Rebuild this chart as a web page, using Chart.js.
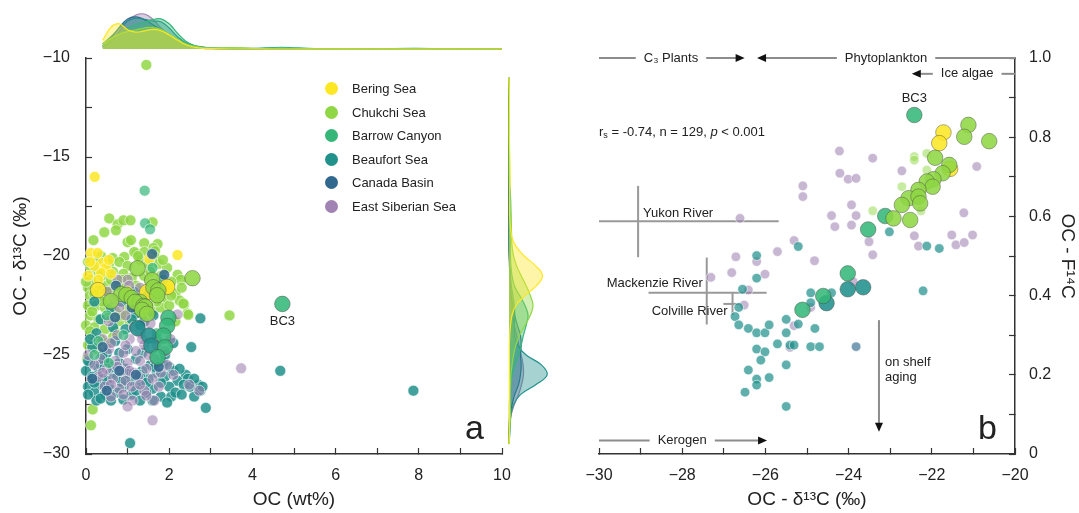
<!DOCTYPE html>
<html>
<head>
<meta charset="utf-8">
<script src="https://cdn.jsdelivr.net/npm/chart.js@4.4.1/dist/chart.umd.min.js"></script>
<style>
  html, body { margin: 0; padding: 0; background: #fff; }
  #wrap { position: relative; width: 1079px; height: 513px; overflow: hidden; font-family: 'Liberation Sans', Arial, sans-serif; }
  canvas { position: absolute; }
  #legend { position: absolute; left: 325px; top: 77px; font-size: 13px; color: #222; }
  #legend .item { height: 23.5px; display: flex; align-items: center; }
  #legend .dot { width: 13px; height: 13px; border-radius: 50%; margin-right: 14px; }
</style>
</head>
<body>
<div id="wrap">
  <canvas id="chartA" width="540" height="513" style="left:0;top:0"></canvas>
  <canvas id="chartB" width="539" height="513" style="left:540px;top:0"></canvas>
  <canvas id="densTop" width="416" height="51" style="left:86px;top:0"></canvas>
  <canvas id="densRight" width="52" height="400" style="left:502px;top:56px"></canvas>
  <div id="legend"></div>
</div>
<script>
// =========================
// CATEGORIES
// =========================
const regions = ['Bering Sea', 'Chukchi Sea', 'Barrow Canyon', 'Beaufort Sea', 'Canada Basin', 'East Siberian Sea'];
const regionColors = ['#fde725', '#8fd744', '#35b779', '#21918c', '#31688e', '#a083b2'];

// =========================
// PANEL A: [OC wt%, d13C]
// =========================
const beringA = [[0.21,-16.0],[2.2,-19.95],[0.12,-19.85],[0.28,-19.85],[0.4,-20.35],[0.48,-20.6],[0.36,-20.85],
  [0.55,-20.2],[1.52,-20.15],[0.05,-21.0],[0.2,-20.5],[0.6,-20.9],[1.0,-21.8],[2.0,-21.6],[0.3,-21.2],[0.1,-20.3]];
const chukchiA = [[1.45,-10.35],[0.56,-18.1],[0.76,-18.4],[0.9,-18.2],[1.07,-18.2],[0.44,-18.8],[0.72,-18.7],[1.6,-18.3],
  [0.18,-19.2],[1.0,-19.3],[1.08,-19.2],[1.4,-19.35],[1.72,-19.4],[1.62,-19.6],[1.66,-19.75],[1.22,-19.9],
  [0.36,-20.0],[0.64,-20.1],[0.92,-20.05],[1.16,-19.8],[1.4,-19.8],[1.64,-20.0],[0.05,-20.3],[0.12,-20.6],
  [0.25,-20.3],[0.55,-20.4],[0.8,-20.3],[1.0,-20.5],[1.3,-20.2],[1.5,-20.4],[1.75,-20.4],[1.95,-20.6],
  [2.2,-20.95],[2.28,-21.2],[0.12,-21.2],[0.4,-21.0],[0.65,-20.8],[0.9,-20.9],[1.1,-21.1],[1.4,-21.0],
  [1.8,-21.0],[2.05,-21.3],[0.05,-21.6],[0.5,-21.5],[0.75,-21.4],[1.2,-21.5],[1.95,-21.5],[2.15,-21.9],
  [0.1,-22.0],[0.35,-22.0],[0.55,-21.8],[1.6,-22.0],[1.85,-22.2],[2.36,-22.45],[2.44,-22.9],[2.25,-22.25],
  [2.34,-22.4],[2.46,-22.97],[0.05,-22.5],[0.25,-22.5],[0.45,-22.6],[0.7,-22.8],[1.0,-22.7],[1.2,-22.9],
  [1.6,-22.8],[1.8,-22.6],[0.1,-23.0],[0.3,-23.2],[0.55,-23.1],[0.8,-23.3],[1.05,-23.3],[0.0,-23.5],
  [0.2,-23.6],[0.45,-23.7],[0.7,-23.8],[0.15,-24.0],[0.35,-24.2],[0.05,-24.5],[0.25,-24.7],[0.5,-24.4],
  [0.03,-25.2],[3.45,-23.0],[0.16,-27.75],[0.12,-28.55],[2.15,-23.3],[2.0,-22.5],[0.3,-21.7],[0.85,-21.2],[1.35,-21.9],
  [0.0,-21.3],[0.2,-21.9],[0.4,-22.3],[0.15,-22.8],[1.25,-20.0],[1.55,-20.8],[1.85,-20.2],[0.95,-21.6],
  [1.7,-22.3],[2.05,-22.0],[0.6,-21.2],[0.3,-20.8],[0.1,-23.8],[0.4,-24.9],[0.65,-24.1],[0.85,-23.0],
  [2.3,-21.6],[1.5,-22.5]];
const barrowA = [[1.41,-16.7],[1.42,-18.35],[1.54,-18.65],[1.6,-20.6],[1.85,-21.2],[0.5,-23.0],[0.3,-24.3],
  [0.9,-24.0],[1.7,-23.9],[0.55,-25.4],[0.2,-25.0]];
const beaufortA = [[2.75,-23.15],[2.53,-24.6],[4.67,-25.8],[7.87,-26.8],[2.88,-27.67],[1.06,-29.45],
  [0.1,-25.4],[0.45,-25.3],[0.8,-25.4],[1.2,-25.2],[1.55,-25.5],[1.85,-25.4],[2.0,-25.6],
  [0.0,-25.8],[0.3,-25.7],[0.6,-25.9],[0.95,-25.7],[1.35,-25.8],[1.7,-25.9],[2.1,-25.8],[2.4,-26.0],
  [0.15,-26.1],[0.4,-26.2],[0.75,-26.1],[1.05,-26.3],[1.5,-26.2],[1.9,-26.1],[2.2,-26.3],[2.45,-26.2],[2.7,-26.5],
  [0.05,-26.6],[0.3,-26.5],[0.55,-26.6],[0.9,-26.6],[1.25,-26.5],[1.6,-26.7],[2.0,-26.6],[2.35,-26.5],[2.75,-26.8],
  [0.2,-26.9],[0.45,-27.0],[0.75,-26.9],[1.1,-27.0],[1.45,-26.9],[1.8,-27.1],[2.05,-27.1],[2.6,-27.1],
  [0.25,-27.3],[0.6,-27.3],[1.3,-27.3],[1.95,-27.4],
  [0.6,-22.6],[0.35,-23.2],[0.85,-22.3],[1.15,-21.8],[1.4,-23.3],[0.25,-23.9],[0.7,-24.3],[1.0,-24.7],
  [1.35,-24.9],[1.7,-24.2],[0.15,-24.6],[0.5,-24.9],[0.95,-23.7],[1.2,-22.9],[1.62,-23.0],[1.48,-21.9],
  [0.2,-22.3],[1.9,-25.0],[2.1,-24.4],
  [0.05,-25.3],[0.35,-25.5],[0.65,-25.6],[1.0,-25.95],[1.3,-26.0],[1.65,-25.6],[2.25,-25.7],[0.2,-26.4],
  [0.5,-26.3],[0.85,-26.35],[1.2,-26.8],[1.45,-26.4],[1.8,-26.4],[2.15,-26.9],[2.5,-26.6],[0.05,-27.0],
  [0.35,-27.2],[0.9,-27.25],[1.6,-27.3],[2.3,-27.0],[0.4,-25.0],[0.1,-24.2],[0.8,-24.9],[1.1,-23.2],
  [0.65,-23.6],[2.6,-26.2],[2.8,-26.6]];
const canadaA = [[1.59,-19.9],[0.72,-21.5],[1.88,-20.95],[0.7,-23.1],[1.1,-22.6],[1.3,-23.5],[0.4,-24.6],
  [0.8,-25.8],[1.2,-26.0],[0.15,-26.2],[0.5,-26.8],[1.75,-25.6]];
const essA = [[0.76,-21.2],[1.0,-21.2],[1.04,-21.5],[0.5,-21.8],[1.3,-21.6],[0.8,-22.6],[1.15,-22.3],[0.55,-23.3],
  [0.95,-23.0],[1.3,-23.9],[1.55,-23.4],[2.2,-22.95],[0.4,-24.2],[0.75,-24.0],[1.05,-24.2],[1.4,-24.5],
  [1.7,-24.5],[2.03,-24.2],[0.55,-24.7],[0.9,-24.9],[1.2,-24.8],[0.35,-25.2],[0.7,-25.3],[1.0,-25.4],
  [1.3,-25.3],[1.65,-25.2],[1.95,-25.5],[0.5,-25.7],[0.85,-25.8],[1.15,-25.9],[1.45,-25.7],[0.3,-26.1],
  [0.65,-26.2],[0.95,-26.3],[1.25,-26.1],[1.6,-26.2],[0.45,-26.6],[0.8,-26.7],[1.1,-26.6],[1.4,-26.8],
  [1.75,-26.6],[2.48,-26.5],[2.72,-26.8],[0.6,-27.1],[1.12,-27.3],[1.64,-27.3],[1.0,-27.6],[1.6,-28.3],
  [3.73,-25.67],[0.2,-25.5],[0.05,-25.0],
  [0.6,-24.4],[0.95,-24.5],[1.35,-24.2],[1.5,-25.0],[0.75,-25.6],[1.05,-25.8],[1.3,-26.5],[0.6,-26.5],
  [0.9,-27.0],[1.45,-27.05],[1.8,-25.9],[2.1,-26.0],[0.4,-25.9],[1.15,-23.6],[0.65,-22.2],[1.9,-24.8]];
// samples that also have F14C (large markers)
const beringBigA = [[0.29,-21.72],[1.47,-21.82],[1.95,-21.56]];
const chukchiBigA = [[1.24,-20.62],[2.56,-21.12],[1.59,-21.22],[1.62,-21.58],[1.74,-21.74],[0.85,-21.92],
  [0.97,-21.96],[1.71,-21.98],[1.10,-22.12],[0.60,-22.28],[1.30,-22.32],[1.18,-22.32],[1.38,-22.52],
  [1.42,-22.56],[1.35,-22.72],[1.47,-22.92]];
const barrowBigA = [[4.72,-22.42],[1.98,-23.12],[1.95,-23.53],[1.86,-24.02],[1.90,-24.61],[1.72,-25.11]];
const beaufortBigA = [[1.24,-23.65],[1.51,-24.02],[1.57,-24.53]];

// =========================
// MARGINAL DENSITIES
// =========================
const densOC = [0.4, 0.6, 0.8, 1.0, 1.2, 1.4, 1.6, 1.8, 2.0, 2.2, 2.4, 2.6, 2.8, 3.0, 3.5, 4.0, 4.7, 5.5, 6.5, 7.9, 9.0, 10.0];
const topBering   = [0.25,0.62,0.72,0.55,0.48,0.52,0.56,0.52,0.40,0.25,0.12,0.05,0.02,0.01,0,0,0,0,0,0,0,0];
const topChukchi  = [0.15,0.30,0.42,0.50,0.55,0.60,0.62,0.56,0.42,0.28,0.15,0.08,0.04,0.03,0.04,0.02,0,0,0,0,0,0];
const topBarrow   = [0.10,0.25,0.45,0.60,0.70,0.76,0.84,0.86,0.72,0.45,0.22,0.10,0.04,0.02,0.01,0.01,0.05,0.01,0,0,0,0];
const topBeaufort = [0.15,0.35,0.60,0.80,0.88,0.85,0.80,0.78,0.60,0.35,0.18,0.10,0.06,0.03,0.01,0.01,0.02,0.01,0,0.02,0,0];
const topCanada   = [0.08,0.30,0.62,0.86,0.92,0.84,0.70,0.55,0.40,0.25,0.12,0.05,0.02,0.01,0,0,0,0,0,0,0,0];
const topEss      = [0.05,0.20,0.50,0.80,0.97,1.00,0.86,0.60,0.40,0.25,0.15,0.08,0.05,0.03,0.02,0.02,0,0,0,0,0,0];

const densD = [-29.5,-29,-28.5,-28,-27.5,-27,-26.5,-26,-25.5,-25,-24.5,-24,-23.5,-23,-22.5,-22,-21.5,-21,-20.5,-20,-19.5,-19,-18,-17,-16,-14,-12,-11];
const rightBering   = [0,0.01,0.01,0.01,0.01,0.01,0.01,0.01,0.01,0.01,0.01,0.02,0.04,0.08,0.18,0.42,0.72,0.88,0.70,0.40,0.18,0.07,0.02,0.02,0.03,0.01,0.01,0];
const rightChukchi  = [0,0.01,0.03,0.04,0.03,0.03,0.04,0.05,0.08,0.12,0.18,0.28,0.42,0.56,0.63,0.56,0.45,0.32,0.20,0.12,0.08,0.07,0.05,0.02,0.01,0.01,0.01,0];
const rightBarrow   = [0,0,0,0.01,0.01,0.02,0.04,0.08,0.16,0.25,0.32,0.38,0.45,0.50,0.42,0.28,0.14,0.08,0.05,0.04,0.04,0.05,0.05,0.04,0.01,0,0,0];
const rightBeaufort = [0,0.02,0.03,0.05,0.12,0.30,0.70,1.00,0.85,0.45,0.22,0.15,0.14,0.15,0.14,0.10,0.06,0.04,0.02,0.01,0,0,0,0,0,0,0,0];
const rightCanada   = [0,0,0.01,0.03,0.08,0.15,0.25,0.30,0.32,0.30,0.32,0.30,0.22,0.15,0.10,0.06,0.04,0.03,0.02,0.01,0,0,0,0,0,0,0,0];
const rightEss      = [0,0.01,0.03,0.06,0.14,0.25,0.33,0.38,0.37,0.32,0.26,0.20,0.14,0.10,0.07,0.05,0.04,0.03,0.01,0,0,0,0,0,0,0,0,0];

// =========================
// PANEL B: [d13C, F14C]
// =========================
const beringBigB = [[-21.72,0.812],[-21.82,0.785],[-21.56,0.72]];
const chukchiBigB = [[-21.12,0.831],[-21.22,0.801],[-20.62,0.79],[-21.92,0.748],[-21.58,0.73],[-21.74,0.709],
  [-21.96,0.694],[-22.12,0.688],[-21.98,0.675],[-22.32,0.667],[-22.56,0.646],[-22.32,0.65],[-22.28,0.633],
  [-22.72,0.629],[-22.92,0.595],[-22.52,0.591]];
const barrowBigB = [[-22.42,0.856],[-23.12,0.601],[-23.53,0.567],[-24.02,0.456],[-24.61,0.399],[-25.11,0.364]];
const beaufortBigB = [[-23.65,0.421],[-24.02,0.416],[-24.53,0.381]];
const chukchiB = [[-22.42,0.751],[-22.42,0.742],[-22.12,0.759],[-22.72,0.675],[-23.42,0.614],[-22.12,0.717],[-22.26,0.614]];
const beaufortB = [[-23.02,0.561],[-22.12,0.525],[-21.82,0.519],[-25.21,0.524],[-26.21,0.501],[-26.21,0.444],
  [-26.55,0.416],[-26.64,0.37],[-26.73,0.347],[-26.64,0.326],[-26.41,0.317],[-26.21,0.306],[-26.01,0.306],
  [-25.91,0.326],[-25.5,0.34],[-25.5,0.306],[-25.21,0.328],[-24.91,0.407],[-24.41,0.407],[-24.91,0.382],
  [-24.81,0.317],[-25.41,0.275],[-25.31,0.275],[-24.91,0.271],[-24.7,0.271],[-25.71,0.278],[-26.21,0.265],
  [-26.01,0.258],[-26.11,0.237],[-25.5,0.225],[-26.41,0.212],[-26.21,0.189],[-25.91,0.193],[-26.21,0.174],
  [-26.49,0.156],[-25.5,0.12],[-22.21,0.412]];
const canadaB = [[-23.82,0.271]];
const essB = [[-24.22,0.765],[-23.42,0.747],[-22.72,0.715],[-24.21,0.709],[-24.01,0.694],[-23.82,0.696],
  [-25.10,0.677],[-25.10,0.65],[-23.93,0.629],[-24.41,0.602],[-23.82,0.602],[-24.33,0.574],[-23.93,0.578],
  [-26.61,0.595],[-25.31,0.539],[-25.71,0.511],[-26.71,0.498],[-26.21,0.486],[-26.81,0.458],[-26.01,0.454],
  [-24.82,0.488],[-23.51,0.536],[-23.42,0.503],[-22.42,0.551],[-22.32,0.525],[-21.52,0.553],[-21.42,0.528],
  [-21.22,0.534],[-21.02,0.553],[-21.23,0.609],[-20.92,0.726],[-27.31,0.446],[-26.41,0.414],[-26.51,0.376],
  [-25.31,0.324],[-25.41,0.269],[-24.91,0.37],[-23.89,0.435]];

// end members / rivers (data units)
const endMembers = [
  { name: 'C\u2083 Plants', from: -30, to: -26.5, f: 1.0, at: -28.27, head: 'end' },
  { name: 'Phytoplankton', from: -26.2, to: -20, f: 1.0, at: -23.1, head: 'start' },
  { name: 'Ice algae', from: -22.48, to: -20, f: 0.96, at: -21.15, head: 'start' },
  { name: 'Kerogen', from: -30, to: -25.96, f: 0.034, at: -28.0, head: 'end' }
];
const riverNames = ['Yukon River', 'Mackenzie River', 'Colville River'];
const riverD13C = [-29.06, -27.41, -26.79];
const riverD13CRange = [[-30, -25.68], [-28.81, -25.97], [-27.01, -26.57]];
const riverF14C = [0.588, 0.407, 0.379];
const riverF14CRange = [[0.497, 0.677], [0.327, 0.496], [0.351, 0.406]];
const agingD13C = -23.27;
const agingF14C = [0.338, 0.056];

// =========================
// HELPERS
// =========================
const FONT = "'Liberation Sans', Arial, sans-serif";
Chart.defaults.font.family = FONT;
Chart.defaults.color = '#222';

function rgba(hex, a) {
    const n = parseInt(hex.slice(1), 16);
    return `rgba(${n >> 16}, ${(n >> 8) & 255}, ${n & 255}, ${a})`;
}
const minus = v => String(v).replace('-', '\u2212');

function pts(arr) { return arr.map(p => ({ x: p[0], y: p[1] })); }

function small(arr, ci, alpha, r) {
    return {
        data: pts(arr), clip: false, pointRadius: r, pointHoverRadius: r,
        backgroundColor: rgba(regionColors[ci], alpha),
        borderColor: 'rgba(255,255,255,0.75)', borderWidth: 0.8
    };
}
function big(arr, ci, r) {
    return {
        data: pts(arr), clip: false, pointRadius: r, pointHoverRadius: r,
        backgroundColor: rgba(regionColors[ci], 0.88),
        borderColor: 'rgba(70,70,70,0.55)', borderWidth: 0.8
    };
}

function axisX(min, max, title, every) {
    return {
        type: 'linear', min: min, max: max, position: 'bottom',
        afterFit: s => { s.height = 59; },
        ticks: {
            stepSize: 1, autoSkip: false, maxRotation: 0, padding: 18, font: { size: 16 }, color: '#222',
            callback: v => (Math.round(v) % every === 0 ? minus(v) : '')
        },
        grid: { drawOnChartArea: false, drawTicks: true, tickLength: -6, tickColor: '#333', tickWidth: 1.2 },
        border: { color: '#333', width: 1.5 },
        title: { display: true, text: title, font: { size: 19 }, color: '#222', padding: { top: 0, bottom: 2 } }
    };
}

// =========================
// PANEL A
// =========================
const plainPlugins = { legend: { display: false }, tooltip: { enabled: false } };

const labelsA = {
    id: 'labelsA',
    afterDatasetsDraw(chart) {
        const { ctx, scales: { x, y }, chartArea } = chart;
        ctx.save();
        ctx.fillStyle = '#222';
        ctx.textAlign = 'center';
        ctx.textBaseline = 'middle';
        ctx.font = `13px ${FONT}`;
        ctx.fillText('BC3', x.getPixelForValue(barrowBigA[0][0]), y.getPixelForValue(barrowBigA[0][1]) + 18);
        ctx.font = `34px ${FONT}`;
        ctx.textAlign = 'right';
        ctx.textBaseline = 'alphabetic';
        ctx.fillText('a', chartArea.right - 18, chartArea.bottom - 15);
        ctx.restore();
    }
};

new Chart(document.getElementById('chartA'), {
    type: 'scatter',
    data: {
        datasets: [
            big(chukchiBigA, 1, 7.8),
            big(barrowBigA, 2, 7.8),
            big(beaufortBigA, 3, 7.8),
            big(beringBigA, 0, 7.8),
            small(canadaA, 4, 0.85, 5.5),
            small(barrowA, 2, 0.7, 5.5),
            small(beringA, 0, 0.85, 5.5),
            small(essA, 5, 0.6, 5.5),
            small(beaufortA, 3, 0.85, 5.5),
            small(chukchiA, 1, 0.85, 5.5)
        ]
    },
    options: {
        responsive: false, animation: false,
        layout: { padding: { top: 58, right: 38, left: 0, bottom: 0 } },
        plugins: plainPlugins,
        scales: {
            x: axisX(0, 10, 'OC (wt%)', 2),
            y: {
                type: 'linear', min: -30, max: -10, position: 'left',
                afterFit: s => { s.width = 86; },
                ticks: {
                    stepSize: 2.5, autoSkip: false, padding: 22, font: { size: 16 }, color: '#222',
                    callback: v => (v % 5 === 0 ? minus(v) : '')
                },
                grid: { drawOnChartArea: false, drawTicks: true, tickLength: -6, tickColor: '#333', tickWidth: 1.2 },
                border: { color: '#333', width: 1.5 },
                title: { display: true, text: 'OC - \u03b4\u00b9\u00b3C (\u2030)', font: { size: 19 }, color: '#222', padding: { top: 9, bottom: 0 } }
            }
        }
    },
    plugins: [labelsA]
});

// legend
const legendEl = document.getElementById('legend');
regions.forEach((name, i) => {
    const row = document.createElement('div');
    row.className = 'item';
    row.innerHTML = `<span class="dot" style="background:${regionColors[i]}"></span><span>${name}</span>`;
    legendEl.appendChild(row);
});

// =========================
// MARGINAL DENSITIES
// =========================
const topDens = [topBering, topChukchi, topBarrow, topBeaufort, topCanada, topEss];
const rightDens = [rightBering, rightChukchi, rightBarrow, rightBeaufort, rightCanada, rightEss];
const densOrder = [0, 1, 2, 3, 4, 5];

new Chart(document.getElementById('densTop'), {
    type: 'scatter',
    data: {
        datasets: densOrder.map(i => ({
            data: densOC.map((v, k) => ({ x: v, y: topDens[i][k] })),
            showLine: true, fill: 'origin', tension: 0.4, pointRadius: 0, clip: false,
            borderColor: regionColors[i], borderWidth: 1.2,
            backgroundColor: rgba(regionColors[i], 0.4)
        }))
    },
    options: {
        responsive: false, animation: false,
        layout: { padding: { bottom: 2, top: 0 } },
        plugins: plainPlugins,
        scales: { x: { display: false, min: 0, max: 10 }, y: { display: false, min: 0, max: 1.4 } }
    }
});

new Chart(document.getElementById('densRight'), {
    type: 'scatter',
    data: {
        datasets: densOrder.map(i => ({
            data: densD.map((v, k) => ({ x: rightDens[i][k], y: v })),
            showLine: true, fill: 'shape', tension: 0.4, pointRadius: 0, clip: false,
            borderColor: regionColors[i], borderWidth: 1.2,
            backgroundColor: rgba(regionColors[i], 0.4)
        }))
    },
    options: {
        responsive: false, animation: false,
        layout: { padding: { left: 7, top: 2, bottom: 2, right: 0 } },
        plugins: plainPlugins,
        scales: { x: { display: false, min: 0, max: 1.18 }, y: { display: false, min: -30, max: -10 } }
    }
});

// =========================
// PANEL B
// =========================
function hLine(ctx, x0, x1, y) { ctx.beginPath(); ctx.moveTo(x0, y); ctx.lineTo(x1, y); ctx.stroke(); }
function vLine(ctx, x, y0, y1) { ctx.beginPath(); ctx.moveTo(x, y0); ctx.lineTo(x, y1); ctx.stroke(); }
function head(ctx, x, y, dir) {
    // dir: 'right' | 'left' | 'down'
    ctx.beginPath();
    if (dir === 'right') { ctx.moveTo(x, y); ctx.lineTo(x - 9, y - 4); ctx.lineTo(x - 9, y + 4); }
    else if (dir === 'left') { ctx.moveTo(x, y); ctx.lineTo(x + 9, y - 4); ctx.lineTo(x + 9, y + 4); }
    else { ctx.moveTo(x, y); ctx.lineTo(x - 4, y - 9); ctx.lineTo(x + 4, y - 9); }
    ctx.closePath();
    ctx.fill();
}

const annotB = {
    id: 'annotB',
    beforeDatasetsDraw(chart) {
        const { ctx, scales: { x, y } } = chart;
        ctx.save();
        ctx.strokeStyle = '#8c8c8c';
        ctx.lineWidth = 2;
        ctx.fillStyle = '#111';
        ctx.font = `13px ${FONT}`;

        // end member ranges
        endMembers.forEach(m => {
            const py = y.getPixelForValue(m.f);
            const cx = x.getPixelForValue(m.at);
            const half = ctx.measureText(m.name).width / 2 + 8;
            const x0 = x.getPixelForValue(m.from);
            const x1 = x.getPixelForValue(m.to);
            hLine(ctx, m.head === 'start' ? x0 + 6 : x0, cx - half, py);
            hLine(ctx, cx + half, m.head === 'end' ? x1 - 6 : x1, py);
            if (m.head === 'end') head(ctx, x1, py, 'right');
            else head(ctx, x0, py, 'left');
        });

        // river end members
        ctx.strokeStyle = '#999';
        riverNames.forEach((n, i) => {
            vLine(ctx, x.getPixelForValue(riverD13C[i]), y.getPixelForValue(riverF14CRange[i][0]), y.getPixelForValue(riverF14CRange[i][1]));
            hLine(ctx, x.getPixelForValue(riverD13CRange[i][0]), x.getPixelForValue(riverD13CRange[i][1]), y.getPixelForValue(riverF14C[i]));
        });

        // on shelf aging
        ctx.strokeStyle = '#8c8c8c';
        const ax = x.getPixelForValue(agingD13C);
        const ay1 = y.getPixelForValue(agingF14C[1]);
        vLine(ctx, ax, y.getPixelForValue(agingF14C[0]), ay1 - 6);
        head(ctx, ax, ay1, 'down');
        ctx.restore();
    },
    afterDatasetsDraw(chart) {
        const { ctx, scales: { x, y }, chartArea } = chart;
        ctx.save();
        ctx.fillStyle = '#222';
        ctx.font = `13px ${FONT}`;
        ctx.textBaseline = 'middle';
        ctx.textAlign = 'center';
        endMembers.forEach(m => {
            ctx.fillText(m.name, x.getPixelForValue(m.at), y.getPixelForValue(m.f));
        });
        ctx.fillText('BC3', x.getPixelForValue(barrowBigB[0][0]), y.getPixelForValue(barrowBigB[0][1]) - 17);

        // rivers
        ctx.textAlign = 'left';
        ctx.fillText(riverNames[0], x.getPixelForValue(riverD13C[0]) + 5, y.getPixelForValue(riverF14C[0]) - 8);
        ctx.textAlign = 'right';
        ctx.fillText(riverNames[1], x.getPixelForValue(riverD13C[1]) - 4, y.getPixelForValue(riverF14C[1]) - 9);
        ctx.fillText(riverNames[2], x.getPixelForValue(riverD13C[2]) - 5, y.getPixelForValue(riverF14C[2]) + 8);

        // aging text
        ctx.textAlign = 'left';
        const tx = x.getPixelForValue(agingD13C) + 6;
        const ty = y.getPixelForValue(agingF14C[0]);
        ctx.fillText('on shelf', tx, ty + 42);
        ctx.fillText('aging', tx, ty + 57);

        // statistics
        let sx = chartArea.left;
        const sy = 132;
        const put = (t, font, dy) => { ctx.font = font; ctx.fillText(t, sx, sy + dy); sx += ctx.measureText(t).width; };
        put('r', `13px ${FONT}`, 0);
        put('s', `9px ${FONT}`, 4);
        put(' = -0.74, n = 129, ', `13px ${FONT}`, 0);
        put('p', `italic 13px ${FONT}`, 0);
        put(' < 0.001', `13px ${FONT}`, 0);

        ctx.font = `34px ${FONT}`;
        ctx.textAlign = 'right';
        ctx.textBaseline = 'alphabetic';
        ctx.fillText('b', chartArea.right - 18, chartArea.bottom - 15);
        ctx.restore();
    }
};

new Chart(document.getElementById('chartB'), {
    type: 'scatter',
    data: {
        datasets: [
            big(chukchiBigB, 1, 7.8),
            big(barrowBigB, 2, 7.8),
            big(beaufortBigB, 3, 7.8),
            big(beringBigB, 0, 7.8),
            small(canadaB, 4, 0.65, 4.8),
            small(chukchiB, 1, 0.5, 4.8),
            small(beaufortB, 3, 0.72, 4.8),
            small(essB, 5, 0.58, 4.8)
        ]
    },
    options: {
        responsive: false, animation: false,
        layout: { padding: { top: 58, right: 0, left: 59, bottom: 0 } },
        plugins: plainPlugins,
        scales: {
            x: axisX(-30, -20, 'OC - \u03b4\u00b9\u00b3C (\u2030)', 2),
            y: {
                type: 'linear', min: 0, max: 1, position: 'right',
                afterFit: s => { s.width = 64; },
                ticks: {
                    stepSize: 0.1, autoSkip: false, padding: 20, font: { size: 16 }, color: '#222',
                    callback: v => {
                        const k = Math.round(v * 10);
                        if (k % 2 !== 0) return '';
                        return k === 0 ? '0' : (k / 10).toFixed(1);
                    }
                },
                grid: { drawOnChartArea: false, drawTicks: true, tickLength: -6, tickColor: '#333', tickWidth: 1.2 },
                border: { color: '#333', width: 1.5 },
                title: { display: true, text: 'OC - F\u00b9\u2074C', font: { size: 19 }, color: '#222', padding: { top: 0, bottom: 0 } }
            }
        }
    },
    plugins: [annotB]
});
</script>
</body>
</html>
